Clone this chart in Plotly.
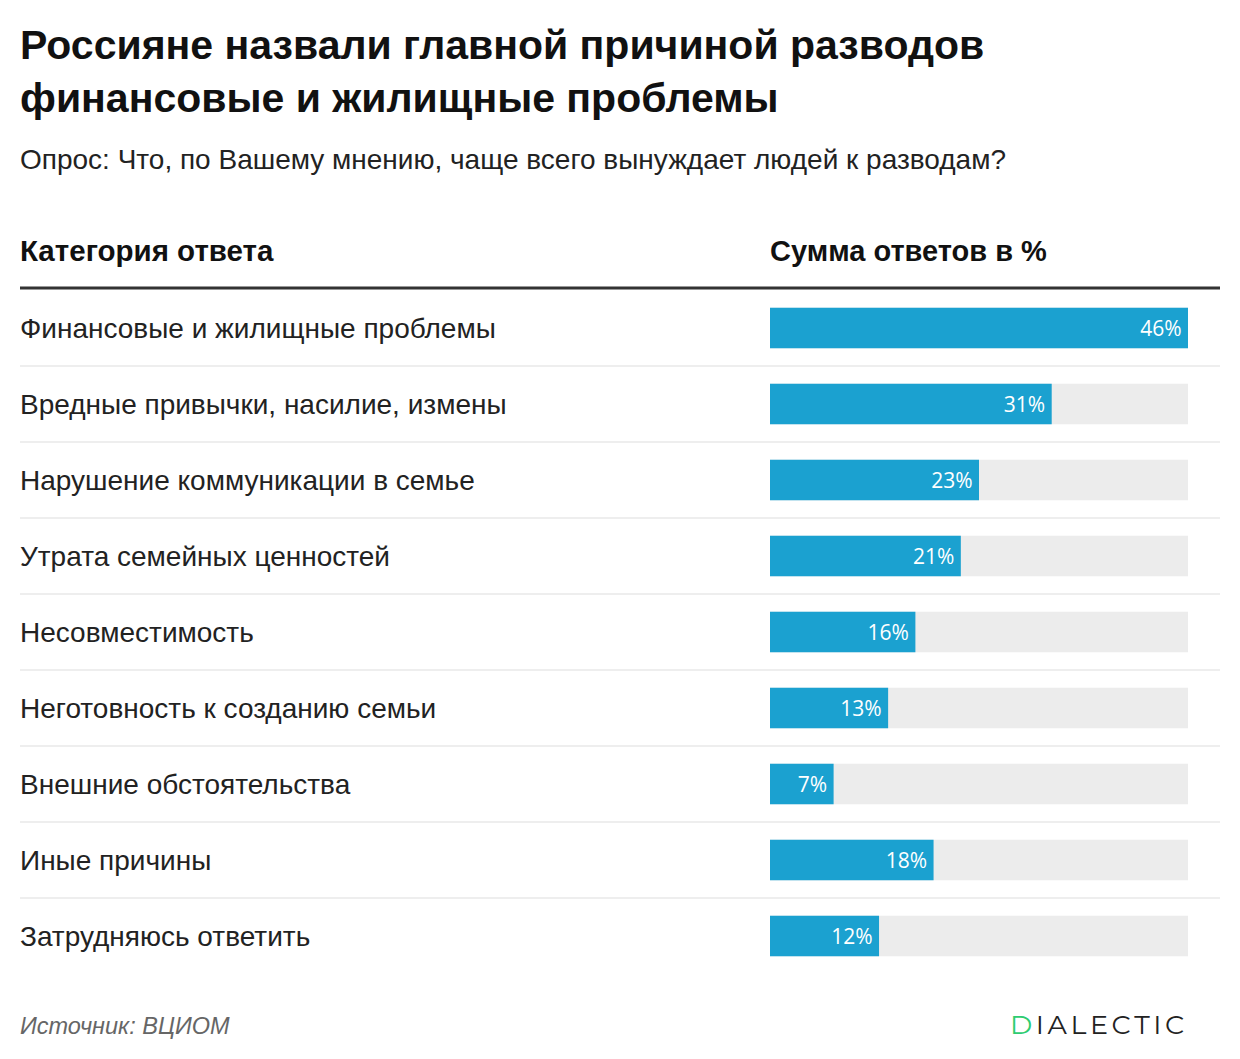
import plotly.graph_objects as go

categories = [
    "Финансовые и жилищные проблемы",
    "Вредные привычки, насилие, измены",
    "Нарушение коммуникации в семье",
    "Утрата семейных ценностей",
    "Несовместимость",
    "Неготовность к созданию семьи",
    "Внешние обстоятельства",
    "Иные причины",
    "Затрудняюсь ответить",
]
values = [46, 31, 23, 21, 16, 13, 7, 18, 12]
value_labels = [f"{v}%\u2009" for v in values]

title_text = "Россияне назвали главной причиной разводов<br>финансовые и жилищные проблемы"
subtitle_text = "Опрос: Что, по Вашему мнению, чаще всего вынуждает людей к разводам?"
header_left = "Категория ответа"
header_right = "Сумма ответов в %"
source_text = "Источник: ВЦИОМ"

OFF = 8  # page body margin
W, H = 1240 - OFF, 1059 - OFF
BAR_COLOR = "#1ba1d0"
TRACK_COLOR = "#ececec"
FONT = "Liberation Sans, Arial, sans-serif"

xmax = max(values)
n = len(categories)

fig = go.Figure()
fig.add_trace(go.Bar(
    y=categories, x=[xmax] * n, orientation="h",
    marker=dict(color=TRACK_COLOR, line=dict(width=0)),
    hoverinfo="skip", showlegend=False,
))
fig.add_trace(go.Bar(
    y=categories, x=values, orientation="h",
    marker=dict(color=BAR_COLOR, line=dict(width=0)),
    text=value_labels, textposition="inside", insidetextanchor="end",
    textfont=dict(color="white", size=21, family="Open Sans, sans-serif"),
    showlegend=False,
))


def px_x(px):
    return (px - OFF) / W


top_px, row_h = 290, 76
bottom_px = top_px + row_h * n
plot_top = top_px - OFF
plot_bottom = bottom_px - OFF


def px_y(py):
    return 1 - (py - top_px) / (bottom_px - top_px)


fig.update_layout(
    width=W, height=H,
    margin=dict(l=0, r=0, t=plot_top, b=H - plot_bottom, pad=0),
    paper_bgcolor="white", plot_bgcolor="white",
    barmode="overlay", bargap=0.47,
    xaxis=dict(domain=[px_x(770), px_x(1188)], range=[0, xmax], visible=False, fixedrange=True),
    yaxis=dict(autorange="reversed", visible=False, fixedrange=True),
    font=dict(family=FONT, color="#222"),
    uniformtext=dict(mode="show", minsize=10),
)

TX = 18  # text left edge (accounts for annotation padding)

annotations = []
for c in categories:
    annotations.append(dict(
        x=px_x(TX), xref="paper", y=c, yref="y", text=c, showarrow=False,
        xanchor="left", yanchor="middle",
        font=dict(size=28, color="#222", family=FONT),
    ))

annotations += [
    dict(x=px_x(TX), xref="paper", y=px_y(71), yref="paper", text="<b>" + title_text + "</b>",
         showarrow=False, xanchor="left", yanchor="middle", align="left",
         font=dict(size=41, color="#111", family=FONT)),
    dict(x=px_x(TX), xref="paper", y=px_y(160), yref="paper", text=subtitle_text,
         showarrow=False, xanchor="left", yanchor="middle",
         font=dict(size=28, color="#222", family=FONT)),
    dict(x=px_x(TX), xref="paper", y=px_y(251), yref="paper", text="<b>" + header_left + "</b>",
         showarrow=False, xanchor="left", yanchor="middle",
         font=dict(size=29.5, color="#111", family=FONT)),
    dict(x=px_x(768), xref="paper", y=px_y(251), yref="paper", text="<b>" + header_right + "</b>",
         showarrow=False, xanchor="left", yanchor="middle",
         font=dict(size=29, color="#111", family=FONT)),
    dict(x=px_x(TX), xref="paper", y=px_y(1026), yref="paper", text="<i>" + source_text + "</i>",
         showarrow=False, xanchor="left", yanchor="middle",
         font=dict(size=23.5, color="#666", family=FONT)),
    dict(x=px_x(1186), xref="paper", y=px_y(1024), yref="paper",
         text="<span style='color:#2ecc71'>D</span>\u2009I\u2009A\u2009L\u2009E\u2009C\u2009T\u2009I\u2009C",
         showarrow=False, xanchor="right", yanchor="middle",
         font=dict(size=27, color="#222", family="Montserrat, Lato, sans-serif")),
]

shapes = [dict(type="line", xref="paper", yref="paper", x0=px_x(20), x1=px_x(1220),
               y0=px_y(288), y1=px_y(288), line=dict(color="#333", width=3))]
for i in range(n - 1):
    shapes.append(dict(type="line", xref="paper", yref="y", x0=px_x(20), x1=px_x(1220),
                       y0=i + 0.5, y1=i + 0.5, line=dict(color="#e8e8e8", width=1.5)))

fig.update_layout(annotations=annotations, shapes=shapes)
fig.write_html("out.html")
